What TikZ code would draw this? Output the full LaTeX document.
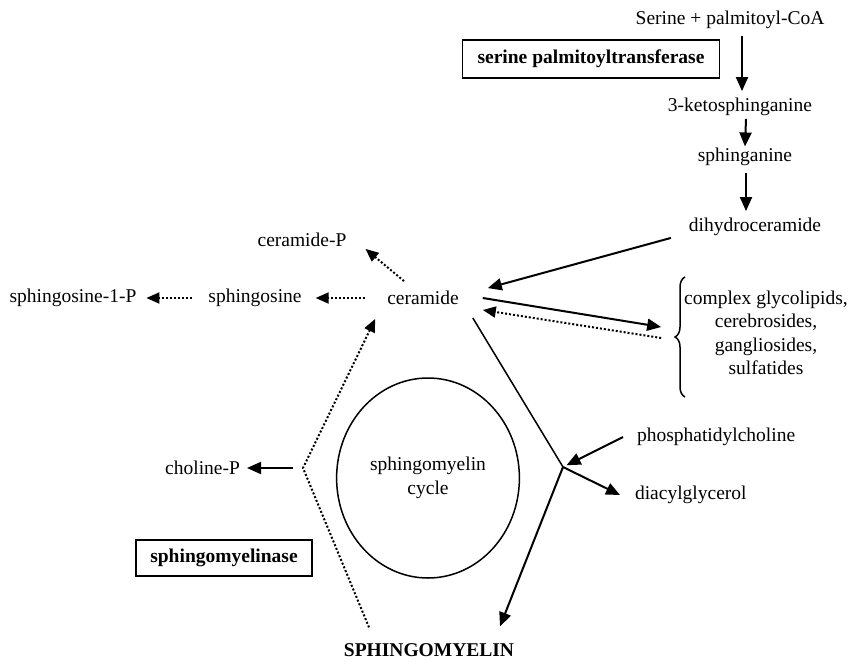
\documentclass[tikz,border=0pt]{standalone}
\usepackage{fontspec}
\setmainfont{Liberation Serif}
\usetikzlibrary{arrows.meta,positioning,shapes.geometric,decorations.pathreplacing}

\begin{document}
\begin{tikzpicture}[
    x=0.5pt, y=-0.5pt,
    font={\fontsize{9.75}{11.75}\selectfont},
    enzyme/.style={rectangle, draw, line width=0.75pt,
      font={\fontsize{9.75}{11.75}\selectfont\bfseries}, inner xsep=6pt},
    titre/.style={font={\fontsize{9.75}{11.75}\selectfont\bfseries}},
    arr/.style={-{Triangle[length=7pt,width=6pt]}, line width=1pt},
    dotarr/.style={-{Triangle[length=6.5pt,width=5.5pt]}, line width=1pt, densely dotted},
    lien/.style={line width=0.75pt}
  ]
    \useasboundingbox (0,0) rectangle (850,663);

    \node (serine) at (730,20) {Serine + palmitoyl-CoA};
    \node[enzyme, minimum width=128.5pt, minimum height=19pt] (spt) at (591,59) {serine palmitoyltransferase};
    \node (keto) at (740,107) {3-ketosphinganine};
    \node (sphinganine) at (745,157) {sphinganine};
    \node (dihydro) at (755,227) {dihydroceramide};

    \node (ceramide) at (423,298) {ceramide};
    \node (cerP) at (302,240) {ceramide-P};
    \node (sphingosine) at (255,298) {sphingosine};
    \node (s1p) at (73,298) {sphingosine-1-P};
    \node[align=center] (complex) at (766,333) {complex glycolipids,\\cerebrosides,\\gangliosides,\\sulfatides};

    \node[anchor=west] (pc) at (630,437) {phosphatidylcholine};
    \node[anchor=west] (dag) at (628,495) {diacylglycerol};
    \node[ellipse, draw, lien, minimum width=88pt, minimum height=100pt, align=center] (cycle) at (428,478) {sphingomyelin\\cycle};
    \node[anchor=east] (cholP) at (247,468) {choline-P};
    \node[enzyme, minimum width=88pt, minimum height=18pt] (smase) at (224,558) {sphingomyelinase};
    \node[titre] (sm) at (429,650) {SPHINGOMYELIN};

    \coordinate (junc) at (563,467);
    \coordinate (vert) at (303,468);
    \coordinate (brtop) at (685,277);
    \coordinate (brbot) at (685,397);

    \draw[arr] ([xshift=1pt]keto.north |- serine.south) -- ([xshift=1pt]keto.north);
    \draw[arr] ([xshift=3pt,yshift=2pt]keto.south) -- ([yshift=-2.7pt]sphinganine.north);
    \draw[arr] ([xshift=0.5pt]sphinganine.south) -- ([xshift=-4.5pt]dihydro.north);
    \draw[arr] ([xshift=-5.5pt,yshift=2.5pt]dihydro.south west) -- ([xshift=11pt,yshift=-2pt]ceramide.north east);

    \draw[arr] ([xshift=8.5pt]ceramide.east) -- ([xshift=-8pt,yshift=3pt]complex.west);
    \draw[dotarr] ([xshift=-8pt,yshift=-2.5pt]complex.west) -- ([xshift=8.5pt,yshift=-6pt]ceramide.east);
    \draw[decorate, decoration={brace, amplitude=5pt}, lien] (brbot) -- (brtop);

    \draw[dotarr] ([xshift=-9.5pt,yshift=1.5pt]ceramide.north) -- ([xshift=6pt,yshift=2.5pt]cerP.south east);
    \draw[dotarr, shorten <=7.5pt, shorten >=3.5pt] (ceramide.west) -- (sphingosine.east);
    \draw[dotarr, shorten <=4.5pt, shorten >=1.5pt] (sphingosine.west) -- (s1p.east);

    \draw[lien] ([xshift=3.5pt,yshift=-3pt]ceramide.south east) -- (junc);
    \draw[arr, shorten >=2pt] ([xshift=-3.5pt]pc.west) -- (junc);
    \draw[arr] (junc) -- ([xshift=-4pt]dag.west);
    \draw[arr] (junc) -- ([xshift=35.5pt,yshift=5pt]sm.north);

    \draw[dotarr] ([xshift=-30pt,yshift=4.5pt]sm.north) -- (vert) -- ([xshift=-2.5pt,yshift=-3.5pt]ceramide.south west);
    \draw[arr] ([xshift=-5pt]vert) -- (cholP.east);
  \end{tikzpicture}
\end{document}
